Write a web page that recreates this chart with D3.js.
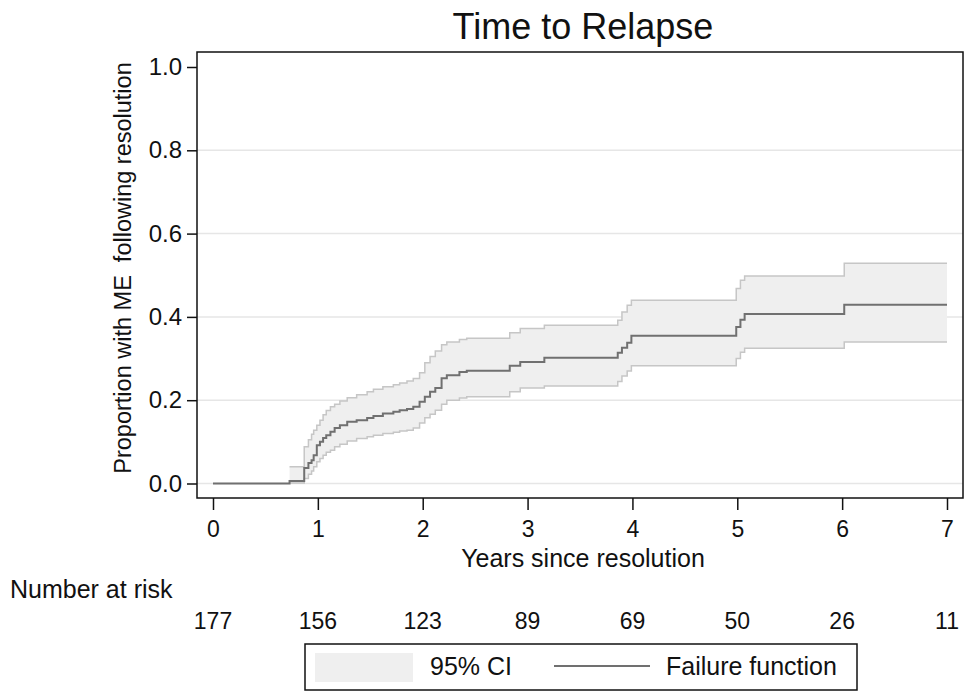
<!DOCTYPE html>
<html>
<head>
<meta charset="utf-8">
<script src="https://cdnjs.cloudflare.com/ajax/libs/d3/7.8.5/d3.min.js"></script>
<style>
  body { margin: 0; background: #fff; }
  text { font-family: Arial, "Liberation Sans", Helvetica, sans-serif; fill: #111; }
</style>
</head>
<body>
<div id="chart"></div>
<script>
// step times (years) and values
var stepTimes = [0, 0.73, 0.87, 0.91, 0.94, 0.96, 0.99, 1.02, 1.05, 1.08, 1.12, 1.16, 1.21, 1.28, 1.37, 1.47, 1.53,
    1.62, 1.72, 1.78, 1.85, 1.91, 1.97, 2.02, 2.07, 2.12, 2.18, 2.23, 2.35, 2.42, 2.83, 2.93, 3.16, 3.86, 3.90,
    3.95, 3.99, 4.99, 5.03, 5.07, 6.02];
var failure = [0, 0.006, 0.037, 0.049, 0.056, 0.068, 0.092, 0.100, 0.109, 0.116, 0.124, 0.133, 0.140, 0.148, 0.152,
    0.157, 0.162, 0.168, 0.172, 0.176, 0.179, 0.184, 0.196, 0.208, 0.220, 0.229, 0.253, 0.260, 0.268, 0.271, 0.283,
    0.292, 0.302, 0.314, 0.326, 0.338, 0.355, 0.376, 0.393, 0.407, 0.429];
var ciLower = [0, 0.001, 0.012, 0.022, 0.030, 0.040, 0.052, 0.060, 0.068, 0.075, 0.080, 0.088, 0.094, 0.102, 0.108,
    0.112, 0.116, 0.120, 0.123, 0.126, 0.128, 0.133, 0.145, 0.158, 0.166, 0.176, 0.190, 0.200, 0.205, 0.208, 0.220,
    0.229, 0.234, 0.245, 0.258, 0.270, 0.283, 0.300, 0.315, 0.325, 0.340];
var ciUpper = [0, 0.040, 0.088, 0.105, 0.118, 0.128, 0.140, 0.152, 0.165, 0.175, 0.184, 0.190, 0.198, 0.206, 0.213,
    0.220, 0.226, 0.232, 0.237, 0.241, 0.246, 0.252, 0.266, 0.290, 0.305, 0.318, 0.333, 0.340, 0.346, 0.349, 0.362,
    0.372, 0.380, 0.392, 0.412, 0.428, 0.440, 0.468, 0.488, 0.498, 0.529];
var endTime = 7;

var xTicks = [0, 1, 2, 3, 4, 5, 6, 7];
var yTicks = [0, 0.2, 0.4, 0.6, 0.8, 1.0];
var gridTicks = [0, 0.2, 0.4, 0.6, 0.8];
var atRisk = [177, 156, 123, 89, 69, 50, 26, 11];

var width = 968, height = 692;
var frame = {left: 197, top: 52, right: 963, bottom: 498};

var svg = d3.select("#chart").append("svg")
    .attr("width", width)
    .attr("height", height);

var x = d3.scaleLinear().domain([0, 7]).range([213, 947]);
var y = d3.scaleLinear().domain([0, 1]).range([483.5, 67]);

// rows for the curves, with a closing point at the end of follow-up
var rows = stepTimes.map(function(t, i) {
    return {t: t, f: failure[i], lo: ciLower[i], hi: ciUpper[i]};
});
var last = rows[rows.length - 1];
rows.push({t: endTime, f: last.f, lo: last.lo, hi: last.hi});
var ciRows = rows.filter(function(d) { return d.t > 0; });

// grid
svg.append("g")
    .selectAll("line")
    .data(gridTicks)
    .enter().append("line")
    .attr("x1", frame.left).attr("x2", frame.right)
    .attr("y1", function(d) { return y(d); })
    .attr("y2", function(d) { return y(d); })
    .attr("stroke", "#e6e6e6")
    .attr("stroke-width", 1.5);

// confidence band
svg.append("path")
    .datum(ciRows)
    .attr("fill", "#efefef")
    .attr("d", d3.area().curve(d3.curveStepAfter)
        .x(function(d) { return x(d.t); })
        .y0(function(d) { return y(d.lo); })
        .y1(function(d) { return y(d.hi); }));

["lo", "hi"].forEach(function(k) {
    svg.append("path")
        .datum(ciRows)
        .attr("fill", "none")
        .attr("stroke", "#c6c6c6")
        .attr("stroke-width", 1.5)
        .attr("d", d3.line().curve(d3.curveStepAfter)
            .x(function(d) { return x(d.t); })
            .y(function(d) { return y(d[k]); }));
});

svg.append("path")
    .datum(rows)
    .attr("fill", "none")
    .attr("stroke", "#707070")
    .attr("stroke-width", 2)
    .attr("d", d3.line().curve(d3.curveStepAfter)
        .x(function(d) { return x(d.t); })
        .y(function(d) { return y(d.f); }));

// frame
svg.append("rect")
    .attr("x", frame.left).attr("y", frame.top)
    .attr("width", frame.right - frame.left)
    .attr("height", frame.bottom - frame.top)
    .attr("fill", "none")
    .attr("stroke", "#111")
    .attr("stroke-width", 1.5);

// y axis
var yAxis = d3.axisLeft(y).tickValues(yTicks).tickFormat(d3.format(".1f")).tickSize(10).tickPadding(5);
var gy = svg.append("g").attr("transform", "translate(" + frame.left + ",0)").call(yAxis);
gy.select(".domain").remove();
gy.selectAll(".tick line").attr("stroke", "#111").attr("stroke-width", 1.5);
gy.selectAll(".tick text").style("font-size", "24px").attr("fill", "#111");

// x axis
var xAxis = d3.axisBottom(x).tickValues(xTicks).tickFormat(d3.format("d")).tickSize(12).tickPadding(11);
var gx = svg.append("g").attr("transform", "translate(0," + frame.bottom + ")").call(xAxis);
gx.select(".domain").remove();
gx.selectAll(".tick line").attr("stroke", "#111").attr("stroke-width", 1.5);
gx.selectAll(".tick text").style("font-size", "23px").attr("fill", "#111");

// titles
svg.append("text")
    .attr("x", 583).attr("y", 39)
    .attr("text-anchor", "middle")
    .style("font-size", "36px")
    .text("Time to Relapse");

svg.append("text")
    .attr("x", 583).attr("y", 567)
    .attr("text-anchor", "middle")
    .style("font-size", "25px")
    .text("Years since resolution");

svg.append("text")
    .attr("transform", "translate(131,268) rotate(-90)")
    .attr("text-anchor", "middle")
    .style("font-size", "23.5px")
    .attr("xml:space", "preserve")
    .text("Proportion with ME  following resolution");

// number at risk
svg.append("text")
    .attr("x", 10).attr("y", 598)
    .style("font-size", "25px")
    .text("Number at risk");

svg.append("g")
    .selectAll("text")
    .data(atRisk)
    .enter().append("text")
    .attr("x", function(d, i) { return x(xTicks[i]); })
    .attr("y", 629)
    .attr("text-anchor", "middle")
    .style("font-size", "23px")
    .text(function(d) { return d; });

// legend
var lg = svg.append("g");
lg.append("rect")
    .attr("x", 305).attr("y", 644).attr("width", 552).attr("height", 46)
    .attr("fill", "#fff").attr("stroke", "#111").attr("stroke-width", 1.5);
lg.append("rect")
    .attr("x", 315).attr("y", 653).attr("width", 98).attr("height", 29)
    .attr("fill", "#efefef");
lg.append("text")
    .attr("x", 430).attr("y", 675)
    .style("font-size", "25px")
    .text("95% CI");
lg.append("line")
    .attr("x1", 554).attr("x2", 650).attr("y1", 666).attr("y2", 666)
    .attr("stroke", "#707070").attr("stroke-width", 2);
lg.append("text")
    .attr("x", 666).attr("y", 675)
    .style("font-size", "25px")
    .text("Failure function");
</script>
</body>
</html>
